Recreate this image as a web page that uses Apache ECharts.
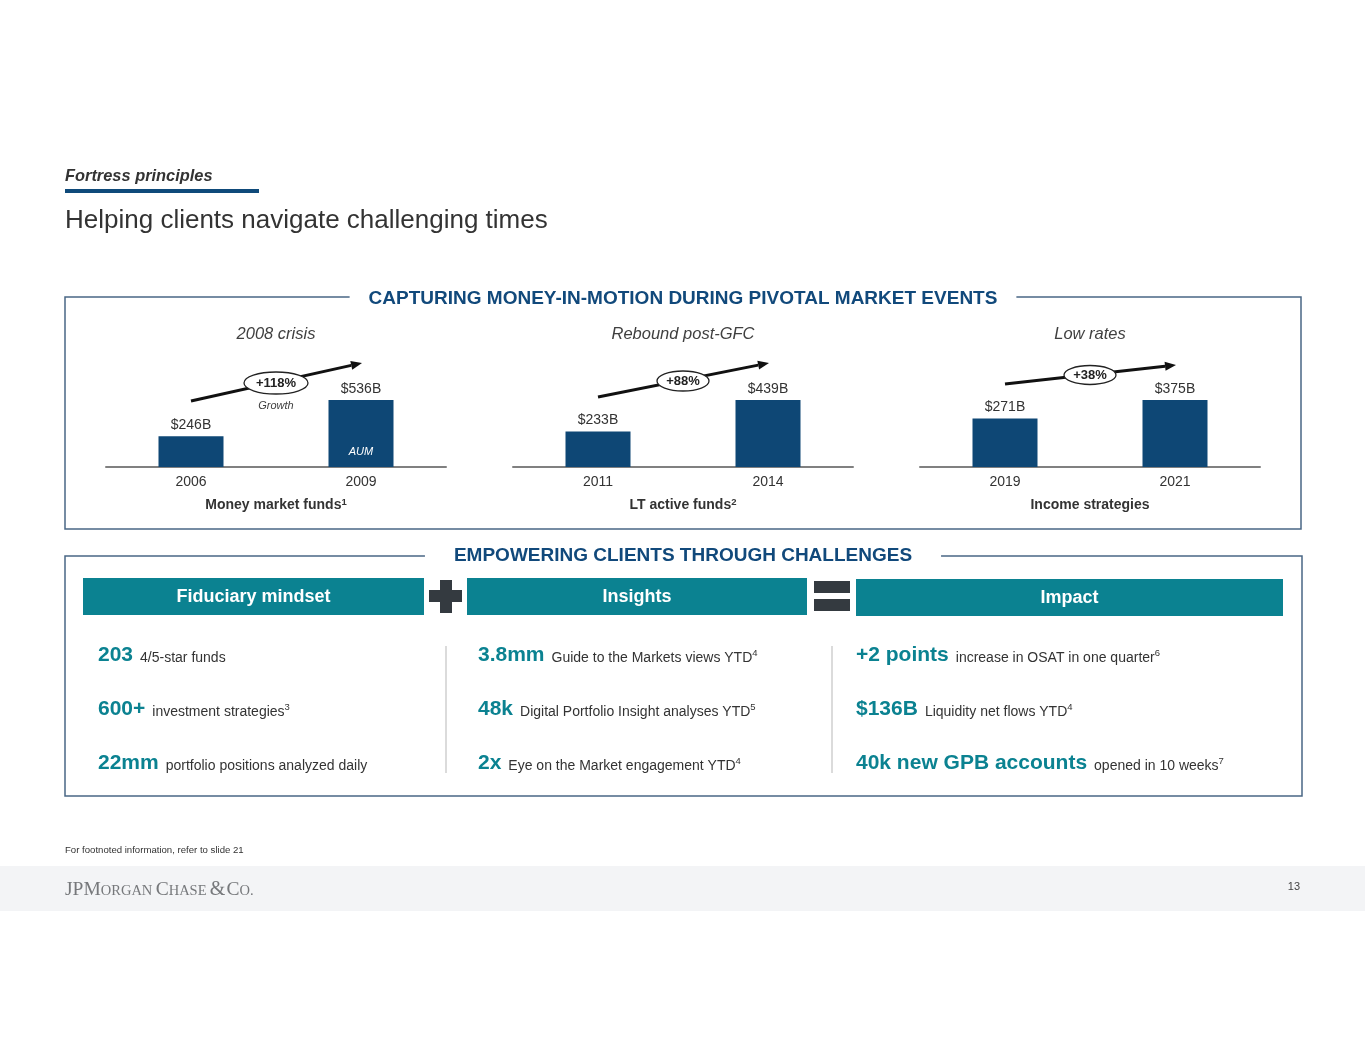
<!DOCTYPE html>
<html><head><meta charset="utf-8">
<script src="https://cdn.jsdelivr.net/npm/echarts@6/dist/echarts.min.js"></script>
<style>html,body{margin:0;padding:0;background:#fff}#c{width:1365px;height:1055px}</style>
</head><body><div id="c"></div>
<script>
// ---- data ----
const eventTitles = ['2008 crisis', 'Rebound post-GFC', 'Low rates'];
const fundNames = ['Money market funds', 'LT active funds', 'Income strategies'];
const fundNotes = ['1', '2', ''];
const yearsMMF = ['2006', '2009'];
const aumMMF = [246, 536];
const yearsLT = ['2011', '2014'];
const aumLT = [233, 439];
const yearsInc = ['2019', '2021'];
const aumInc = [271, 375];
const growthLabels = ['+118%', '+88%', '+38%'];
const pillarTitles = ['Fiduciary mindset', 'Insights', 'Impact'];
const fiduciaryStats = [['203', '4/5-star funds', ''], ['600+', 'investment strategies', '3'], ['22mm', 'portfolio positions analyzed daily', '']];
const insightStats = [['3.8mm', 'Guide to the Markets views YTD', '4'], ['48k', 'Digital Portfolio Insight analyses YTD', '5'], ['2x', 'Eye on the Market engagement YTD', '4']];
const impactStats = [['+2 points', 'increase in OSAT in one quarter', '6'], ['$136B', 'Liquidity net flows YTD', '4'], ['40k new GPB accounts', 'opened in 10 weeks', '7']];

// ---- styles / layout ----
const F = '"Liberation Sans", Arial, Helvetica, sans-serif';
const SERIF = '"Liberation Serif", "DejaVu Serif", serif';
const NAVY = '#11497b';
const BAR = '#0e4775';
const TEAL = '#0b8291';
const TXT = '#333333';
const panels = [[yearsMMF, aumMMF], [yearsLT, aumLT], [yearsInc, aumInc]];

const chart = echarts.init(document.getElementById('c'), null, {renderer: 'canvas'});

const grids = [], xAxes = [], yAxes = [], series = [];
panels.forEach(([cats, vals], i) => {
  grids.push({left: 106 + i * 407, top: 400, width: 340, height: 67});
  xAxes.push({
    type: 'category', gridIndex: i, data: cats,
    axisLine: {lineStyle: {color: '#808080', width: 2}},
    axisTick: {show: false},
    axisLabel: {color: TXT, fontSize: 14, margin: 8, fontFamily: F},
    name: fundNames[i] + (fundNotes[i] ? '{s|' + fundNotes[i] + '}' : ''),
    nameLocation: 'middle', nameGap: 30,
    nameTextStyle: {fontWeight: 'bold', fontSize: 14, color: TXT, fontFamily: F, lineHeight: 16,
      rich: {s: {fontSize: 9.5, fontWeight: 'bold', color: TXT, fontFamily: F, verticalAlign: 'top', lineHeight: 10}}}
  });
  yAxes.push({type: 'value', gridIndex: i, min: 0, max: Math.max(...vals), show: false, splitLine: {show: false}});
  series.push({
    type: 'bar', xAxisIndex: i, yAxisIndex: i, data: vals, barWidth: 65,
    itemStyle: {color: BAR}, silent: true,
    label: {show: true, position: 'top', distance: 4, formatter: p => '$' + p.value + 'B',
      fontSize: 14, color: TXT, fontFamily: F}
  });
});

chart.setOption({
  animation: false,
  backgroundColor: '#ffffff',
  grid: grids, xAxis: xAxes, yAxis: yAxes, series: series
});

// ---- decorations ----
const g = [];
function txt(x, y, text, o) {
  g.push(Object.assign({type: 'text', x: x, y: y, z: o.z || 20,
    style: Object.assign({text: text, fontFamily: F, fill: TXT, align: 'left', verticalAlign: 'middle'}, o.style || {})}));
}
function rect(x, y, w, h, style, z) {
  g.push({type: 'rect', shape: {x: x, y: y, width: w, height: h}, style: style, z: z || 5});
}

// header
txt(65, 176, 'Fortress principles', {style: {fontSize: 16.4, fontWeight: 'bold', fontStyle: 'italic', fill: '#333'}});
rect(65, 189, 194, 4, {fill: '#0f4a7a'});
txt(65, 221, 'Helping clients navigate challenging times', {style: {fontSize: 26, fill: '#333'}});

// top box
rect(65, 297, 1236, 232, {fill: 'none', stroke: '#4a6785', lineWidth: 1.5}, 1);
txt(683, 299, 'CAPTURING MONEY-IN-MOTION DURING PIVOTAL MARKET EVENTS',
  {style: {fontSize: 19, fontWeight: 'bold', fill: NAVY, align: 'center', backgroundColor: '#fff', padding: [2, 19]}, z: 10});

// per-panel annotations
const arrowY = [[401, 363], [397, 363], [384, 365]];
const ell = [[383, 32, 11], [381, 26, 10], [375, 26, 9.5]];
function arrow(x0, y0, x1, y1) {
  const dx = x1 - x0, dy = y1 - y0, L = Math.hypot(dx, dy), ux = dx / L, uy = dy / L;
  const hl = 11, hw = 4.5, bx = x1 - ux * hl, by = y1 - uy * hl, px = -uy, py = ux;
  g.push({type: 'line', shape: {x1: x0, y1: y0, x2: bx, y2: by}, style: {stroke: '#111', lineWidth: 3}, z: 15});
  g.push({type: 'polygon', shape: {points: [[x1, y1], [bx + px * hw, by + py * hw], [bx - px * hw, by - py * hw]]}, style: {fill: '#111'}, z: 15});
}
panels.forEach(([cats, vals], i) => {
  const p0 = chart.convertToPixel({gridIndex: i}, [0, 0]);
  const p1 = chart.convertToPixel({gridIndex: i}, [1, 0]);
  const cx = (p0[0] + p1[0]) / 2;
  txt(cx, 334, eventTitles[i], {style: {fontSize: 16.5, fontStyle: 'italic', fill: '#404040', align: 'center'}});
  arrow(p0[0], arrowY[i][0], p1[0] + 1, arrowY[i][1]);
  g.push({type: 'ellipse', shape: {cx: cx, cy: ell[i][0], rx: ell[i][1], ry: ell[i][2]},
    style: {fill: '#fff', stroke: '#222', lineWidth: 1.3}, z: 16});
  txt(cx, ell[i][0], growthLabels[i], {style: {fontSize: 13, fontWeight: 'bold', fill: '#222', align: 'center'}, z: 17});
  if (i === 0) {
    txt(cx, 406, 'Growth', {style: {fontSize: 11, fontStyle: 'italic', fill: '#404040', align: 'center'}});
    txt(p1[0], 452, 'AUM', {style: {fontSize: 11, fontStyle: 'italic', fill: '#fff', align: 'center'}, z: 100});
  }
});

// bottom box
rect(65, 556, 1237, 240, {fill: 'none', stroke: '#4a6785', lineWidth: 1.5}, 1);
txt(683, 556, 'EMPOWERING CLIENTS THROUGH CHALLENGES',
  {style: {fontSize: 19, fontWeight: 'bold', fill: NAVY, align: 'center', backgroundColor: '#fff', padding: [2, 29]}, z: 10});

const pillarBoxes = [[83, 578, 341, 37], [467, 578, 340, 37], [856, 579, 427, 37]];
pillarBoxes.forEach((b, i) => {
  rect(b[0], b[1], b[2], b[3], {fill: TEAL});
  txt(b[0] + b[2] / 2, b[1] + b[3] / 2 + 1, pillarTitles[i], {style: {fontSize: 18, fontWeight: 'bold', fill: '#fff', align: 'center'}});
});
// plus and equals
rect(429, 590, 33, 12, {fill: '#343a40'});
rect(440, 580, 12, 33, {fill: '#343a40'});
rect(814, 581, 36, 12, {fill: '#343a40'});
rect(814, 599, 36, 12, {fill: '#343a40'});
// separators
[446, 832].forEach(x => g.push({type: 'line', shape: {x1: x, y1: 646, x2: x, y2: 773}, style: {stroke: '#cfcfcf', lineWidth: 1.5}, z: 5}));

const statCols = [[98, fiduciaryStats], [478, insightStats], [856, impactStats]];
const rowY = [655, 709, 763];
statCols.forEach(([x, rows]) => {
  rows.forEach((r, j) => {
    g.push({type: 'text', x: x, y: rowY[j], z: 20, style: {
      text: '{n|' + r[0] + '}{t|' + r[1] + '}' + (r[2] ? '{s|' + r[2] + '}' : ''),
      align: 'left', verticalAlign: 'middle', fontFamily: F,
      rich: {
        n: {fontSize: 21, fontWeight: 'bold', fill: TEAL, fontFamily: F, verticalAlign: 'bottom', lineHeight: 22},
        t: {fontSize: 14, fill: TXT, fontFamily: F, verticalAlign: 'bottom', lineHeight: 18, padding: [0, 0, 1, 7]},
        s: {fontSize: 9.5, fill: TXT, fontFamily: F, verticalAlign: 'top', lineHeight: 10, padding: [4, 0, 0, 0]}
      }
    }});
  });
});

// footnote & footer
txt(65, 850, 'For footnoted information, refer to slide 21', {style: {fontSize: 9.6, fill: '#333'}});
rect(0, 866, 1365, 45, {fill: '#f3f4f6'}, 0);
g.push({type: 'text', x: 65, y: 889, z: 20, style: {
  text: '{a|JPM}{b|ORGAN} {a|C}{b|HASE} {c|&}{a|C}{b|O.}', align: 'left', verticalAlign: 'middle',
  rich: {
    a: {fontSize: 19.5, fontFamily: SERIF, fill: '#76787b', verticalAlign: 'bottom', lineHeight: 22},
    b: {fontSize: 14.5, fontFamily: SERIF, fill: '#76787b', verticalAlign: 'bottom', lineHeight: 17, padding: [0, 0, 1, 0]},
    c: {fontSize: 20, fontFamily: SERIF, fill: '#76787b', verticalAlign: 'bottom', lineHeight: 22, padding: [0, 1, 0, 0]}
  }
}});
txt(1300, 887, '13', {style: {fontSize: 11, fill: '#444', align: 'right'}});

chart.setOption({graphic: {elements: g}});
</script></body></html>
